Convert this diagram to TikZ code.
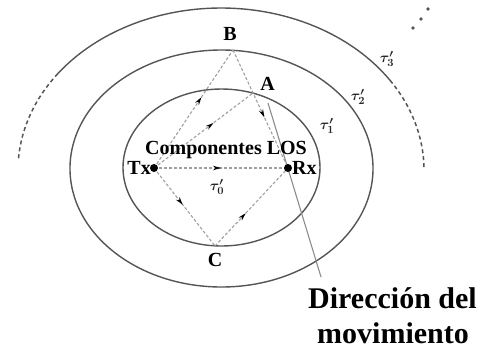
\documentclass[tikz,border=0pt]{standalone}
\usepackage{fontspec}
\setmainfont{Liberation Serif}
\usepackage{bm}
\usetikzlibrary{arrows.meta,decorations.markings}
\definecolor{ringcol}{HTML}{555555}
\definecolor{raycol}{HTML}{A0A0A0}
\definecolor{movcol}{HTML}{8C8C8C}
\tikzset{
  ring/.style={draw=ringcol,line width=1.4pt},
  ringdash/.style={draw=ringcol,line width=1.5pt,dash pattern=on 4pt off 3pt},
  ray/.style={draw=raycol,line width=1.1pt,dash pattern=on 3pt off 2pt,
    postaction={decorate,decoration={markings,mark=at position #1 with {\arrow[black,solid]{Stealth[length=8pt,width=4.5pt]}}}}},
  ray/.default=0.5,
  lbl/.style={font=\fontsize{20}{20}\selectfont\bfseries,inner sep=0pt},
  tau/.style={font=\fontsize{15}{15}\selectfont,inner sep=0pt,text=black!85},
  big/.style={font=\fontsize{30}{30}\selectfont\bfseries,inner sep=0pt},
  dotstyle/.style={fill=black,circle,inner sep=0pt,minimum size=8pt}
}
\begin{document}
\begin{tikzpicture}[x=1pt,y=-1pt]
\useasboundingbox (0,0) rectangle (492,349);
% rings
\draw[ring] (221.5,167.5) ellipse [x radius=98.5, y radius=78.5];
\draw[ring] (221.5,168.5) ellipse [x radius=151.5, y radius=118.5];
\draw[ring] (221,170) ++(33.6:203 and -162) arc [start angle=33.6, end angle=143.5, x radius=203, y radius=-162];
\draw[ringdash] (221,170) ++(143.5:203 and -162) arc [start angle=143.5, end angle=176, x radius=203, y radius=-162];
\draw[ringdash] (221,170) ++(33.6:203 and -162) arc [start angle=33.6, end angle=1, x radius=203, y radius=-162];
% points
\coordinate (Tx) at (154,168);
\coordinate (Rx) at (288,168);
\coordinate (A) at (253,93);
\coordinate (B) at (233,50);
\coordinate (C) at (215,246);
\coordinate (M1) at (268,103);
\coordinate (M2) at (321,277);
% rays
\draw[ray=0.6] (Tx) -- (B);
\draw[ray=0.57] (B) -- (Rx);
\draw[ray=0.6] (Tx) -- (A);
\draw[ray=0.5] (Tx) -- (Rx);
\draw[ray=0.47] (Tx) -- (C);
\draw[ray=0.42] (C) -- (Rx);
% movement direction
\draw[movcol,line width=1.1pt] (M1) -- (M2);
% Tx, Rx dots
\node[dotstyle] (txdot) at (Tx) {};
\node[dotstyle] (rxdot) at (Rx) {};
% labels
\node[lbl,anchor=base east] (txl) at (151,174) {Tx};
\node[lbl,anchor=base west] (rxl) at (292,174) {Rx};
\node[lbl,anchor=base] (al) at (267.5,90) {A};
\node[lbl,anchor=base] (bl) at (230,40) {B};
\node[lbl,anchor=base] (cl) at (215,266) {C};
\node[lbl,anchor=base] (los) at (226,154) {Componentes LOS};
\node[tau] (t0) at (217,187) {$\bm{\tau'_0}$};
\node[tau] (t1) at (327,126) {$\bm{\tau'_1}$};
\node[tau] (t2) at (358,97) {$\bm{\tau'_2}$};
\node[tau] (t3) at (387,59) {$\bm{\tau'_3}$};
\node[big,anchor=base] (d1) at (392.5,308) {Dirección del};
\node[big,anchor=base] (d2) at (393,343) {movimiento};
% dots
\fill[ringcol] (428,9) circle (1.8) (421,19) circle (1.8) (413,28) circle (1.8);
\end{tikzpicture}
\end{document}
